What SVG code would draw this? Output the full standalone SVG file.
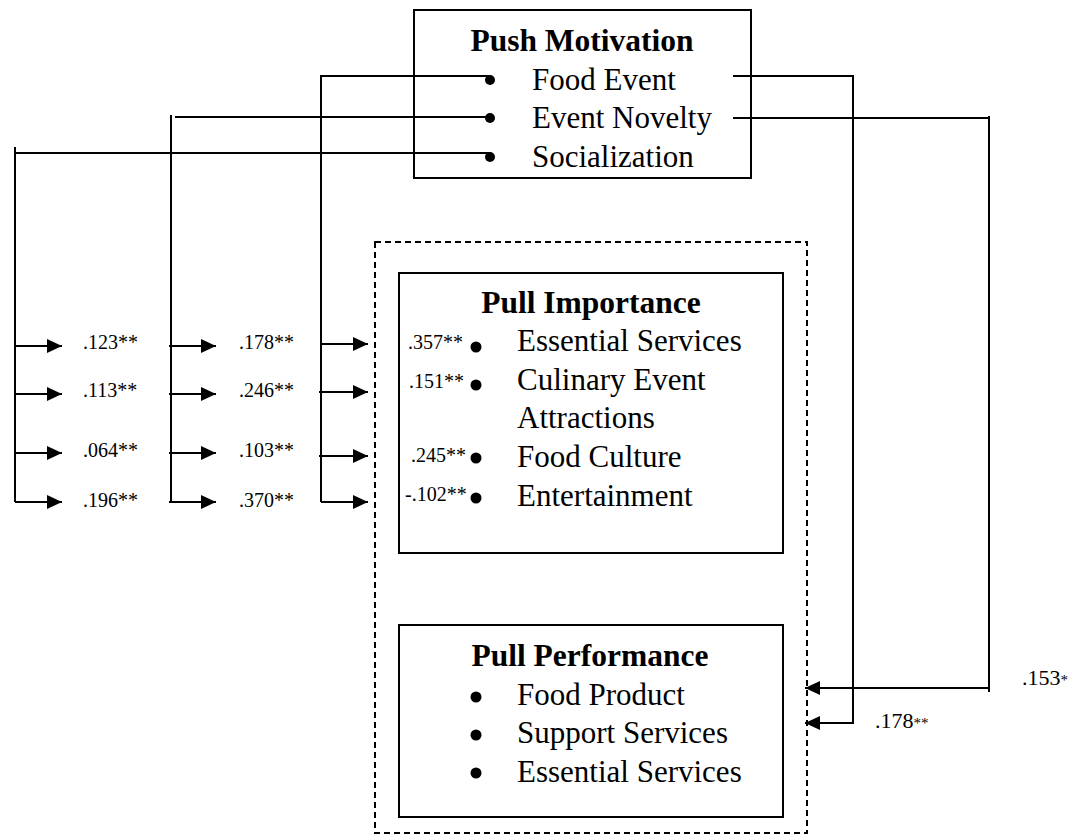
<svg xmlns="http://www.w3.org/2000/svg" width="1080" height="840" viewBox="0 0 1080 840">
<style>
text{font-family:"Liberation Serif","Times New Roman",Times,serif;fill:#000}
.t{font-size:31.5px;font-weight:bold;text-anchor:middle}
.i{font-size:31px}
.c{font-size:20px}
.r{font-size:22px}
.s{font-size:15px}
.box{fill:#fff;stroke:#000;stroke-width:2}
.dash{fill:none;stroke:#000;stroke-width:2;stroke-dasharray:6 4}
.ln{fill:none;stroke:#000;stroke-width:2}
.ar{fill:none;stroke:#000;stroke-width:2;marker-end:url(#ah)}
</style>
<defs>
<marker id="ah" markerUnits="userSpaceOnUse" markerWidth="16" markerHeight="14" refX="15" refY="7" orient="auto">
<path d="M0,0 L15,7 L0,14 z" fill="#000"/>
</marker>
</defs>
<rect width="1080" height="840" fill="#fff"/>

<g id="pull-group">
<rect class="dash" x="375" y="242" width="432" height="591"/>
</g>

<g id="push-motivation">
<rect class="box" x="414" y="10" width="337" height="168"/>
<text class="t" x="582" y="51">Push Motivation</text>
<text class="i" x="532" y="90">Food Event</text>
<text class="i" x="532" y="128">Event Novelty</text>
<text class="i" x="532" y="167">Socialization</text>
<circle cx="490" cy="80" r="5"/>
<circle cx="490" cy="118" r="5"/>
<circle cx="490" cy="157" r="5"/>
</g>

<g id="pull-importance">
<rect class="box" x="399" y="273" width="384" height="280"/>
<text class="t" x="591" y="313">Pull Importance</text>
<text class="i" x="517" y="351">Essential Services</text>
<text class="i" x="517" y="390">Culinary Event</text>
<text class="i" x="517" y="428">Attractions</text>
<text class="i" x="517" y="467">Food Culture</text>
<text class="i" x="517" y="506">Entertainment</text>
<circle cx="476" cy="347" r="5.5"/>
<circle cx="476" cy="385" r="5.5"/>
<circle cx="476" cy="458" r="5.5"/>
<circle cx="476" cy="498" r="5.5"/>
<text class="c" x="408" y="349">.357**</text>
<text class="c" x="409" y="388">.151**</text>
<text class="c" x="411" y="462">.245**</text>
<text class="c" x="405" y="501">-.102**</text>
</g>

<g id="pull-performance">
<rect class="box" x="399" y="625" width="384" height="192"/>
<text class="t" x="590" y="666">Pull Performance</text>
<text class="i" x="517" y="705">Food Product</text>
<text class="i" x="517" y="743">Support Services</text>
<text class="i" x="517" y="782">Essential Services</text>
<circle cx="476" cy="697" r="5.5"/>
<circle cx="476" cy="735" r="5.5"/>
<circle cx="476" cy="773" r="5.5"/>
</g>

<g id="connectors">
<path class="ln" d="M15,147 V502 M15,153 H490"/>
<path class="ln" d="M171,115 V502 M175,117 H490"/>
<path class="ln" d="M321,502 V76 H490"/>
<path class="ar" d="M15,346 H62"/>
<path class="ar" d="M15,394 H62"/>
<path class="ar" d="M15,453 H62"/>
<path class="ar" d="M15,502 H62"/>
<path class="ar" d="M169,346 H216"/>
<path class="ar" d="M169,394 H216"/>
<path class="ar" d="M169,453 H216"/>
<path class="ar" d="M169,502 H216"/>
<path class="ar" d="M321,344 H368"/>
<path class="ar" d="M319,392 H368"/>
<path class="ar" d="M319,456 H368"/>
<path class="ar" d="M321,502 H368"/>
<path class="ar" d="M733,76 H853 V723 H805"/>
<path class="ln" d="M733,118 H989 M989,116 V692"/>
<path class="ar" d="M989,688 H805"/>
</g>

<g id="labels">
<text class="c" x="83" y="349">.123**</text>
<text class="c" x="83" y="397">.113**</text>
<text class="c" x="83" y="457">.064**</text>
<text class="c" x="83" y="507">.196**</text>
<text class="c" x="239" y="349">.178**</text>
<text class="c" x="239" y="397">.246**</text>
<text class="c" x="239" y="457">.103**</text>
<text class="c" x="239" y="507">.370**</text>
<text class="r" x="1022" y="685">.153<tspan class="s">*</tspan></text>
<text class="r" x="875" y="728">.178<tspan class="s">**</tspan></text>
</g>
</svg>
